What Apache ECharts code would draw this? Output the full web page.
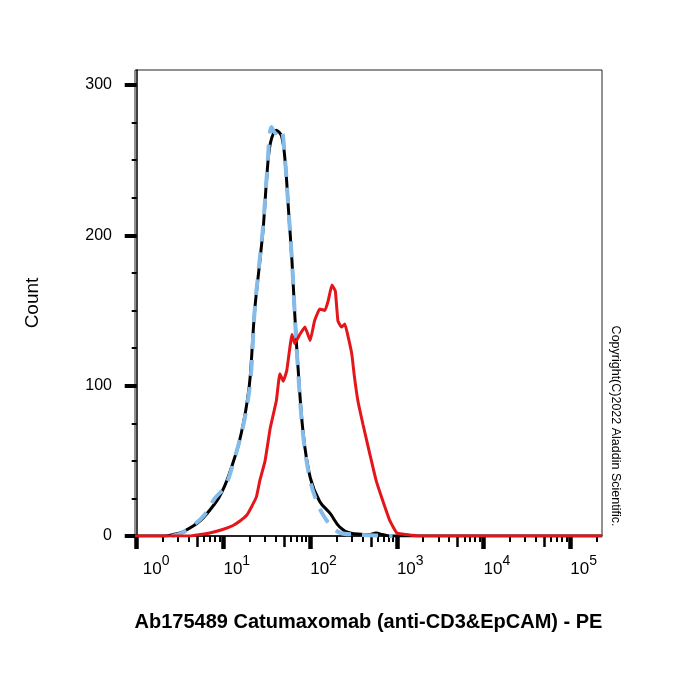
<!DOCTYPE html>
<html><head><meta charset="utf-8">
<script src="https://cdn.jsdelivr.net/npm/echarts@6/dist/echarts.min.js"></script>
<style>html,body{margin:0;padding:0;background:#fff}#c{width:700px;height:700px}</style>
</head><body><div id="c"></div>
<script>
const FONT = '"Liberation Sans", Arial, sans-serif';

// x axis in log10(fluorescence) units
const xMin = -0.02, xMax = 5.365;
const yMin = 0, yMax = 310;
const decadeTicks = [0, 1, 2, 3, 4, 5];
const yMajorTicks = [0, 100, 200, 300];
const yMinorTicks = [25, 50, 75, 125, 150, 175, 225, 250, 275];

const xTitle = 'Ab175489 Catumaxomab (anti-CD3&EpCAM) - PE';
const yTitle = 'Count';
const copyright = 'Copyright(C)2022 Aladdin Scientific.';

// black solid (control)
const blackLogFL = [-0.02, 0.33, 0.42, 0.54, 0.73, 0.92, 0.98, 1.04, 1.10, 1.17, 1.23, 1.28, 1.31, 1.36, 1.42, 1.46, 1.50, 1.54, 1.61, 1.67, 1.71, 1.75, 1.79, 1.82, 1.86, 1.92, 2.00, 2.11, 2.23, 2.34, 2.46, 2.69, 2.76, 2.83, 2.92, 5.365];
const blackCount = [0, 0, 1, 3, 10, 23, 29, 37, 47, 60, 75, 92, 107, 150, 183, 206, 239, 261, 270, 266, 250, 217, 183, 150, 112, 68, 39, 23, 15, 6, 2, 1, 2, 1, 0, 0];

// light blue dashed (isotype)
const blueLogFL = [0.40, 0.52, 0.65, 0.78, 0.90, 1.02, 1.12, 1.23, 1.31, 1.36, 1.42, 1.46, 1.50, 1.555, 1.60, 1.66, 1.71, 1.75, 1.79, 1.82, 1.86, 1.92, 2.00, 2.08, 2.15, 2.25, 2.35, 2.50, 2.95];
const blueCount = [0, 2, 7, 14, 25, 33, 50, 74, 103, 150, 185, 208, 240, 272, 268, 271, 250, 217, 183, 150, 110, 66, 37, 22, 14, 6, 2, 1, 0];

// red solid (stained)
const redLogFL = [-0.02, 0.61, 0.73, 0.84, 1.00, 1.11, 1.19, 1.27, 1.32, 1.38, 1.42, 1.48, 1.54, 1.61, 1.65, 1.69, 1.73, 1.79, 1.82, 1.88, 1.94, 2.00, 2.05, 2.11, 2.17, 2.21, 2.25, 2.29, 2.32, 2.36, 2.40, 2.44, 2.48, 2.51, 2.55, 2.61, 2.69, 2.76, 2.84, 2.92, 3.00, 3.11, 3.26, 5.365];
const redCount = [0, 0, 1, 2, 4.5, 7, 10, 14, 19, 26, 37, 50, 72, 90, 108, 103, 110, 134, 128, 134, 139, 130, 143, 151, 150, 157, 167, 163, 143, 139, 141, 132, 121, 106, 90, 74, 54, 37, 23, 10, 2, 1, 0, 0];

const zip = (xs, ys) => xs.map((x, i) => [x, ys[i]]);

// minor log ticks
const minorSmall = [], minorFive = [];
decadeTicks.forEach(d => {
  [2, 3, 4, 6, 7, 8, 9].forEach(k => { const v = d + Math.log10(k); if (v <= xMax) minorSmall.push(v); });
  const v5 = d + Math.log10(5); if (v5 <= xMax) minorFive.push(v5);
});

const chart = echarts.init(document.getElementById('c'), null, { renderer: 'canvas' });

const baseX = {
  type: 'value', min: xMin, max: xMax, position: 'bottom', gridIndex: 0,
  splitLine: { show: false }
};
const baseY = {
  type: 'value', min: yMin, max: yMax, position: 'left', gridIndex: 0,
  splitLine: { show: false }
};

chart.setOption({
  animation: false,
  backgroundColor: '#fff',
  textStyle: { fontFamily: FONT },
  grid: { left: 135, right: 98, top: 70, bottom: 164, show: true, borderColor: '#222', borderWidth: 1, backgroundColor: 'transparent' },
  xAxis: [
    Object.assign({}, baseX, {
      name: xTitle, nameLocation: 'middle', nameGap: 76,
      nameTextStyle: { fontFamily: FONT, fontSize: 20, fontWeight: 'bold', color: '#000' },
      axisLine: { show: true, lineStyle: { color: '#000', width: 1.5 } },
      axisTick: { show: true, customValues: decadeTicks, length: 13, lineStyle: { color: '#000', width: 4.5 } },
      axisLabel: {
        show: true, customValues: decadeTicks, margin: 18, align: 'left',
        formatter: v => (Math.round(v) === 0 ? '{p|}' : '') + '{b|10}{s|' + Math.round(v) + '}',
        rich: {
          p: { width: 6 },
          b: { fontFamily: FONT, fontSize: 17, color: '#000', lineHeight: 24, verticalAlign: 'bottom' },
          s: { fontFamily: FONT, fontSize: 14, color: '#000', lineHeight: 16, verticalAlign: 'top' }
        }
      }
    }),
    Object.assign({}, baseX, {
      axisLine: { show: false },
      axisLabel: { show: false },
      axisTick: { show: true, customValues: minorSmall, length: 6, lineStyle: { color: '#000', width: 2 } }
    }),
    Object.assign({}, baseX, {
      axisLine: { show: false },
      axisLabel: { show: false },
      axisTick: { show: true, customValues: minorFive, length: 11, lineStyle: { color: '#000', width: 2.5 } }
    })
  ],
  yAxis: [
    Object.assign({}, baseY, {
      name: yTitle, nameLocation: 'middle', nameGap: 93, nameRotate: 90,
      nameTextStyle: { fontFamily: FONT, fontSize: 19, color: '#000' },
      axisLine: { show: true, lineStyle: { color: '#000', width: 1.5 } },
      axisTick: { show: true, customValues: yMajorTicks, length: 12, lineStyle: { color: '#000', width: 4 } },
      axisLabel: { show: true, customValues: yMajorTicks, margin: 23, fontFamily: FONT, fontSize: 16, color: '#000' }
    }),
    Object.assign({}, baseY, {
      axisLine: { show: false },
      axisLabel: { show: false },
      axisTick: { show: true, customValues: yMinorTicks, length: 5, lineStyle: { color: '#000', width: 2 } }
    })
  ],
  series: [
    { type: 'line', name: 'control', data: zip(blackLogFL, blackCount), showSymbol: false, smooth: 0.35,
      lineStyle: { color: '#000', width: 3 }, z: 2 },
    { type: 'line', name: 'isotype', data: zip(blueLogFL, blueCount), showSymbol: false, smooth: 0.35,
      lineStyle: { color: '#85bbe8', width: 4, type: [16, 11] }, z: 3 },
    { type: 'line', name: 'stained', data: zip(redLogFL, redCount), showSymbol: false, smooth: 0.1,
      lineStyle: { color: '#e3161b', width: 3 }, z: 4 }
  ],
  graphic: [
    { type: 'text', x: 615, y: 426, rotation: -Math.PI / 2,
      style: { text: copyright, fontFamily: FONT, fontSize: 12.5, fill: '#000', align: 'center', verticalAlign: 'middle' } }
  ]
});
</script>
</body></html>
